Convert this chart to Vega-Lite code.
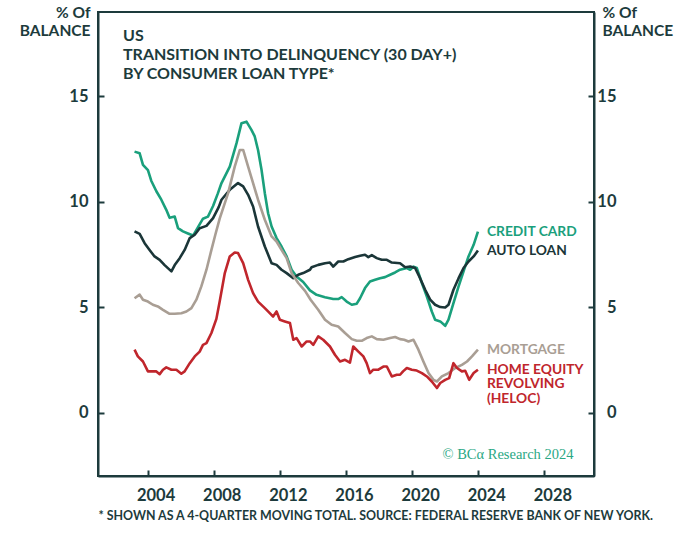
{
  "$schema": "https://vega.github.io/schema/vega-lite/v6.json",
  "width": 496,
  "height": 464,
  "autosize": {"type": "none"},
  "padding": {"left": 98, "top": 12, "right": 86, "bottom": 81},
  "background": "white",
  "title": {
    "text": ["US", "TRANSITION INTO DELINQUENCY (30 DAY+)", "BY CONSUMER LOAN TYPE*"],
    "anchor": "start", "frame": "group", "orient": "top", "baseline": "top",
    "offset": 0, "dx": 25, "dy": 77,
    "font": "Lato", "fontSize": 16, "fontWeight": "bold", "color": "#1d3b3c", "lineHeight": 19
  },
  "datasets": {
    "labels": [
      {"series": "cc", "label": "CREDIT CARD"},
      {"series": "auto", "label": "AUTO LOAN"},
      {"series": "mort", "label": "MORTGAGE"},
      {"series": "heloc", "label": "HOME EQUITY\nREVOLVING\n(HELOC)"}
    ],
    "rates": [
      {"series": "cc", "year": 2003.21, "rate": 12.38},
      {"series": "cc", "year": 2003.52, "rate": 12.3},
      {"series": "cc", "year": 2003.72, "rate": 11.75},
      {"series": "cc", "year": 2004.02, "rate": 11.5},
      {"series": "cc", "year": 2004.22, "rate": 11.0},
      {"series": "cc", "year": 2004.53, "rate": 10.5},
      {"series": "cc", "year": 2004.83, "rate": 10.1},
      {"series": "cc", "year": 2005.13, "rate": 9.62},
      {"series": "cc", "year": 2005.33, "rate": 9.24},
      {"series": "cc", "year": 2005.64, "rate": 9.3},
      {"series": "cc", "year": 2005.84, "rate": 8.75},
      {"series": "cc", "year": 2006.14, "rate": 8.6},
      {"series": "cc", "year": 2006.44, "rate": 8.5},
      {"series": "cc", "year": 2006.75, "rate": 8.4},
      {"series": "cc", "year": 2007.05, "rate": 8.8},
      {"series": "cc", "year": 2007.35, "rate": 9.2},
      {"series": "cc", "year": 2007.65, "rate": 9.3},
      {"series": "cc", "year": 2007.96, "rate": 9.8},
      {"series": "cc", "year": 2008.25, "rate": 10.4},
      {"series": "cc", "year": 2008.47, "rate": 10.89},
      {"series": "cc", "year": 2008.97, "rate": 11.67},
      {"series": "cc", "year": 2009.38, "rate": 12.78},
      {"series": "cc", "year": 2009.68, "rate": 13.73},
      {"series": "cc", "year": 2009.98, "rate": 13.8},
      {"series": "cc", "year": 2010.28, "rate": 13.41},
      {"series": "cc", "year": 2010.48, "rate": 13.1},
      {"series": "cc", "year": 2010.68, "rate": 12.46},
      {"series": "cc", "year": 2010.89, "rate": 11.52},
      {"series": "cc", "year": 2011.09, "rate": 10.41},
      {"series": "cc", "year": 2011.29, "rate": 9.46},
      {"series": "cc", "year": 2011.5, "rate": 8.83},
      {"series": "cc", "year": 2011.8, "rate": 8.28},
      {"series": "cc", "year": 2012.1, "rate": 7.88},
      {"series": "cc", "year": 2012.41, "rate": 7.41},
      {"series": "cc", "year": 2012.71, "rate": 6.78},
      {"series": "cc", "year": 2013.01, "rate": 6.46},
      {"series": "cc", "year": 2013.41, "rate": 6.2},
      {"series": "cc", "year": 2013.82, "rate": 5.8},
      {"series": "cc", "year": 2014.22, "rate": 5.59},
      {"series": "cc", "year": 2014.73, "rate": 5.48},
      {"series": "cc", "year": 2015.23, "rate": 5.39},
      {"series": "cc", "year": 2015.53, "rate": 5.39},
      {"series": "cc", "year": 2015.74, "rate": 5.48},
      {"series": "cc", "year": 2016.04, "rate": 5.27},
      {"series": "cc", "year": 2016.35, "rate": 5.12},
      {"series": "cc", "year": 2016.65, "rate": 5.17},
      {"series": "cc", "year": 2016.85, "rate": 5.43},
      {"series": "cc", "year": 2017.15, "rate": 5.91},
      {"series": "cc", "year": 2017.45, "rate": 6.22},
      {"series": "cc", "year": 2017.76, "rate": 6.3},
      {"series": "cc", "year": 2018.06, "rate": 6.38},
      {"series": "cc", "year": 2018.36, "rate": 6.43},
      {"series": "cc", "year": 2018.67, "rate": 6.54},
      {"series": "cc", "year": 2018.97, "rate": 6.65},
      {"series": "cc", "year": 2019.27, "rate": 6.78},
      {"series": "cc", "year": 2019.68, "rate": 6.86},
      {"series": "cc", "year": 2019.88, "rate": 6.78},
      {"series": "cc", "year": 2020.08, "rate": 6.93},
      {"series": "cc", "year": 2020.28, "rate": 6.86},
      {"series": "cc", "year": 2020.59, "rate": 6.15},
      {"series": "cc", "year": 2020.89, "rate": 5.51},
      {"series": "cc", "year": 2021.19, "rate": 4.8},
      {"series": "cc", "year": 2021.39, "rate": 4.41},
      {"series": "cc", "year": 2021.7, "rate": 4.33},
      {"series": "cc", "year": 2022.0, "rate": 4.12},
      {"series": "cc", "year": 2022.2, "rate": 4.41},
      {"series": "cc", "year": 2022.5, "rate": 5.2},
      {"series": "cc", "year": 2022.81, "rate": 5.99},
      {"series": "cc", "year": 2023.11, "rate": 6.7},
      {"series": "cc", "year": 2023.41, "rate": 7.41},
      {"series": "cc", "year": 2023.72, "rate": 7.96},
      {"series": "cc", "year": 2023.98, "rate": 8.59},

      {"series": "auto", "year": 2003.21, "rate": 8.6},
      {"series": "auto", "year": 2003.52, "rate": 8.48},
      {"series": "auto", "year": 2003.82, "rate": 8.04},
      {"series": "auto", "year": 2004.12, "rate": 7.72},
      {"series": "auto", "year": 2004.42, "rate": 7.41},
      {"series": "auto", "year": 2004.73, "rate": 7.25},
      {"series": "auto", "year": 2005.03, "rate": 7.0},
      {"series": "auto", "year": 2005.44, "rate": 6.7},
      {"series": "auto", "year": 2005.64, "rate": 7.0},
      {"series": "auto", "year": 2005.94, "rate": 7.33},
      {"series": "auto", "year": 2006.24, "rate": 7.72},
      {"series": "auto", "year": 2006.55, "rate": 8.28},
      {"series": "auto", "year": 2006.85, "rate": 8.44},
      {"series": "auto", "year": 2007.15, "rate": 8.75},
      {"series": "auto", "year": 2007.56, "rate": 8.86},
      {"series": "auto", "year": 2007.96, "rate": 9.23},
      {"series": "auto", "year": 2008.3, "rate": 9.75},
      {"series": "auto", "year": 2008.47, "rate": 10.1},
      {"series": "auto", "year": 2008.97, "rate": 10.57},
      {"series": "auto", "year": 2009.47, "rate": 10.89},
      {"series": "auto", "year": 2009.78, "rate": 10.73},
      {"series": "auto", "year": 2010.08, "rate": 10.33},
      {"series": "auto", "year": 2010.38, "rate": 9.78},
      {"series": "auto", "year": 2010.68, "rate": 8.83},
      {"series": "auto", "year": 2011.09, "rate": 7.88},
      {"series": "auto", "year": 2011.5, "rate": 7.09},
      {"series": "auto", "year": 2011.8, "rate": 7.01},
      {"series": "auto", "year": 2012.1, "rate": 6.78},
      {"series": "auto", "year": 2012.41, "rate": 6.62},
      {"series": "auto", "year": 2012.81, "rate": 6.38},
      {"series": "auto", "year": 2013.11, "rate": 6.54},
      {"series": "auto", "year": 2013.41, "rate": 6.62},
      {"series": "auto", "year": 2013.82, "rate": 6.78},
      {"series": "auto", "year": 2013.92, "rate": 6.9},
      {"series": "auto", "year": 2014.32, "rate": 7.01},
      {"series": "auto", "year": 2014.73, "rate": 7.09},
      {"series": "auto", "year": 2015.03, "rate": 7.12},
      {"series": "auto", "year": 2015.23, "rate": 6.93},
      {"series": "auto", "year": 2015.53, "rate": 7.17},
      {"series": "auto", "year": 2015.84, "rate": 7.17},
      {"series": "auto", "year": 2016.14, "rate": 7.28},
      {"series": "auto", "year": 2016.55, "rate": 7.38},
      {"series": "auto", "year": 2016.85, "rate": 7.44},
      {"series": "auto", "year": 2017.15, "rate": 7.49},
      {"series": "auto", "year": 2017.35, "rate": 7.38},
      {"series": "auto", "year": 2017.56, "rate": 7.47},
      {"series": "auto", "year": 2017.86, "rate": 7.33},
      {"series": "auto", "year": 2018.16, "rate": 7.25},
      {"series": "auto", "year": 2018.47, "rate": 7.25},
      {"series": "auto", "year": 2018.77, "rate": 7.12},
      {"series": "auto", "year": 2019.27, "rate": 7.09},
      {"series": "auto", "year": 2019.58, "rate": 6.9},
      {"series": "auto", "year": 2019.88, "rate": 6.93},
      {"series": "auto", "year": 2020.18, "rate": 6.86},
      {"series": "auto", "year": 2020.48, "rate": 6.38},
      {"series": "auto", "year": 2020.79, "rate": 5.83},
      {"series": "auto", "year": 2021.09, "rate": 5.36},
      {"series": "auto", "year": 2021.39, "rate": 5.12},
      {"series": "auto", "year": 2021.7, "rate": 5.01},
      {"series": "auto", "year": 2022.0, "rate": 4.99},
      {"series": "auto", "year": 2022.2, "rate": 5.12},
      {"series": "auto", "year": 2022.5, "rate": 5.83},
      {"series": "auto", "year": 2022.81, "rate": 6.38},
      {"series": "auto", "year": 2023.11, "rate": 6.86},
      {"series": "auto", "year": 2023.41, "rate": 7.17},
      {"series": "auto", "year": 2023.72, "rate": 7.41},
      {"series": "auto", "year": 2023.98, "rate": 7.69},

      {"series": "mort", "year": 2003.21, "rate": 5.43},
      {"series": "mort", "year": 2003.52, "rate": 5.6},
      {"series": "mort", "year": 2003.72, "rate": 5.36},
      {"series": "mort", "year": 2004.02, "rate": 5.27},
      {"series": "mort", "year": 2004.32, "rate": 5.12},
      {"series": "mort", "year": 2004.62, "rate": 5.04},
      {"series": "mort", "year": 2004.93, "rate": 4.88},
      {"series": "mort", "year": 2005.33, "rate": 4.69},
      {"series": "mort", "year": 2005.64, "rate": 4.69},
      {"series": "mort", "year": 2006.04, "rate": 4.72},
      {"series": "mort", "year": 2006.35, "rate": 4.8},
      {"series": "mort", "year": 2006.65, "rate": 4.96},
      {"series": "mort", "year": 2006.95, "rate": 5.36},
      {"series": "mort", "year": 2007.25, "rate": 5.99},
      {"series": "mort", "year": 2007.56, "rate": 6.78},
      {"series": "mort", "year": 2007.86, "rate": 7.72},
      {"series": "mort", "year": 2008.1, "rate": 8.45},
      {"series": "mort", "year": 2008.36, "rate": 9.2},
      {"series": "mort", "year": 2008.87, "rate": 10.41},
      {"series": "mort", "year": 2009.27, "rate": 11.67},
      {"series": "mort", "year": 2009.58, "rate": 12.46},
      {"series": "mort", "year": 2009.78, "rate": 12.46},
      {"series": "mort", "year": 2010.08, "rate": 11.67},
      {"series": "mort", "year": 2010.38, "rate": 10.89},
      {"series": "mort", "year": 2010.68, "rate": 10.1},
      {"series": "mort", "year": 2011.09, "rate": 9.15},
      {"series": "mort", "year": 2011.5, "rate": 8.36},
      {"series": "mort", "year": 2011.8, "rate": 8.12},
      {"series": "mort", "year": 2012.1, "rate": 7.72},
      {"series": "mort", "year": 2012.41, "rate": 7.33},
      {"series": "mort", "year": 2012.71, "rate": 6.62},
      {"series": "mort", "year": 2013.11, "rate": 6.15},
      {"series": "mort", "year": 2013.52, "rate": 5.78},
      {"series": "mort", "year": 2013.86, "rate": 5.36},
      {"series": "mort", "year": 2014.32, "rate": 4.88},
      {"series": "mort", "year": 2014.73, "rate": 4.41},
      {"series": "mort", "year": 2015.13, "rate": 4.17},
      {"series": "mort", "year": 2015.53, "rate": 4.09},
      {"series": "mort", "year": 2015.94, "rate": 3.78},
      {"series": "mort", "year": 2016.35, "rate": 3.49},
      {"series": "mort", "year": 2016.65, "rate": 3.41},
      {"series": "mort", "year": 2016.95, "rate": 3.41},
      {"series": "mort", "year": 2017.25, "rate": 3.54},
      {"series": "mort", "year": 2017.56, "rate": 3.62},
      {"series": "mort", "year": 2017.86, "rate": 3.49},
      {"series": "mort", "year": 2018.26, "rate": 3.46},
      {"series": "mort", "year": 2018.67, "rate": 3.54},
      {"series": "mort", "year": 2018.97, "rate": 3.59},
      {"series": "mort", "year": 2019.27, "rate": 3.49},
      {"series": "mort", "year": 2019.52, "rate": 3.46},
      {"series": "mort", "year": 2019.78, "rate": 3.38},
      {"series": "mort", "year": 2020.08, "rate": 3.46},
      {"series": "mort", "year": 2020.38, "rate": 2.99},
      {"series": "mort", "year": 2020.68, "rate": 2.43},
      {"series": "mort", "year": 2020.99, "rate": 1.88},
      {"series": "mort", "year": 2021.29, "rate": 1.56},
      {"series": "mort", "year": 2021.5, "rate": 1.48},
      {"series": "mort", "year": 2021.8, "rate": 1.72},
      {"series": "mort", "year": 2022.2, "rate": 1.88},
      {"series": "mort", "year": 2022.61, "rate": 2.12},
      {"series": "mort", "year": 2023.01, "rate": 2.27},
      {"series": "mort", "year": 2023.32, "rate": 2.43},
      {"series": "mort", "year": 2023.62, "rate": 2.67},
      {"series": "mort", "year": 2023.98, "rate": 2.99},

      {"series": "heloc", "year": 2003.21, "rate": 2.99},
      {"series": "heloc", "year": 2003.41, "rate": 2.67},
      {"series": "heloc", "year": 2003.72, "rate": 2.43},
      {"series": "heloc", "year": 2004.02, "rate": 1.96},
      {"series": "heloc", "year": 2004.32, "rate": 1.96},
      {"series": "heloc", "year": 2004.53, "rate": 1.96},
      {"series": "heloc", "year": 2004.73, "rate": 1.83},
      {"series": "heloc", "year": 2004.93, "rate": 2.04},
      {"series": "heloc", "year": 2005.13, "rate": 2.15},
      {"series": "heloc", "year": 2005.44, "rate": 2.04},
      {"series": "heloc", "year": 2005.74, "rate": 2.04},
      {"series": "heloc", "year": 2006.04, "rate": 1.85},
      {"series": "heloc", "year": 2006.24, "rate": 1.96},
      {"series": "heloc", "year": 2006.55, "rate": 2.35},
      {"series": "heloc", "year": 2006.85, "rate": 2.67},
      {"series": "heloc", "year": 2007.15, "rate": 2.9},
      {"series": "heloc", "year": 2007.35, "rate": 3.22},
      {"series": "heloc", "year": 2007.56, "rate": 3.3},
      {"series": "heloc", "year": 2007.86, "rate": 3.78},
      {"series": "heloc", "year": 2008.16, "rate": 4.45},
      {"series": "heloc", "year": 2008.36, "rate": 5.27},
      {"series": "heloc", "year": 2008.67, "rate": 6.62},
      {"series": "heloc", "year": 2008.97, "rate": 7.41},
      {"series": "heloc", "year": 2009.27, "rate": 7.6},
      {"series": "heloc", "year": 2009.47, "rate": 7.57},
      {"series": "heloc", "year": 2009.78, "rate": 7.09},
      {"series": "heloc", "year": 2010.08, "rate": 6.3},
      {"series": "heloc", "year": 2010.38, "rate": 5.67},
      {"series": "heloc", "year": 2010.68, "rate": 5.27},
      {"series": "heloc", "year": 2011.09, "rate": 4.96},
      {"series": "heloc", "year": 2011.39, "rate": 4.72},
      {"series": "heloc", "year": 2011.59, "rate": 4.56},
      {"series": "heloc", "year": 2011.8, "rate": 4.8},
      {"series": "heloc", "year": 2012.0, "rate": 4.41},
      {"series": "heloc", "year": 2012.3, "rate": 4.33},
      {"series": "heloc", "year": 2012.61, "rate": 4.25},
      {"series": "heloc", "year": 2012.81, "rate": 3.46},
      {"series": "heloc", "year": 2013.01, "rate": 3.54},
      {"series": "heloc", "year": 2013.32, "rate": 3.14},
      {"series": "heloc", "year": 2013.62, "rate": 3.38},
      {"series": "heloc", "year": 2013.82, "rate": 3.38},
      {"series": "heloc", "year": 2014.02, "rate": 3.22},
      {"series": "heloc", "year": 2014.32, "rate": 3.62},
      {"series": "heloc", "year": 2014.62, "rate": 3.46},
      {"series": "heloc", "year": 2015.03, "rate": 3.14},
      {"series": "heloc", "year": 2015.33, "rate": 2.75},
      {"series": "heloc", "year": 2015.64, "rate": 2.43},
      {"series": "heloc", "year": 2015.94, "rate": 2.51},
      {"series": "heloc", "year": 2016.24, "rate": 2.38},
      {"series": "heloc", "year": 2016.44, "rate": 3.14},
      {"series": "heloc", "year": 2016.75, "rate": 2.9},
      {"series": "heloc", "year": 2017.05, "rate": 2.67},
      {"series": "heloc", "year": 2017.25, "rate": 2.35},
      {"series": "heloc", "year": 2017.45, "rate": 1.88},
      {"series": "heloc", "year": 2017.65, "rate": 2.04},
      {"series": "heloc", "year": 2017.96, "rate": 2.04},
      {"series": "heloc", "year": 2018.26, "rate": 2.19},
      {"series": "heloc", "year": 2018.47, "rate": 2.19},
      {"series": "heloc", "year": 2018.77, "rate": 1.72},
      {"series": "heloc", "year": 2019.07, "rate": 1.8},
      {"series": "heloc", "year": 2019.27, "rate": 1.8},
      {"series": "heloc", "year": 2019.45, "rate": 1.96},
      {"series": "heloc", "year": 2019.68, "rate": 2.12},
      {"series": "heloc", "year": 2019.98, "rate": 2.04},
      {"series": "heloc", "year": 2020.28, "rate": 2.0},
      {"series": "heloc", "year": 2020.59, "rate": 1.88},
      {"series": "heloc", "year": 2020.89, "rate": 1.72},
      {"series": "heloc", "year": 2021.19, "rate": 1.48},
      {"series": "heloc", "year": 2021.5, "rate": 1.17},
      {"series": "heloc", "year": 2021.7, "rate": 1.41},
      {"series": "heloc", "year": 2022.0, "rate": 1.56},
      {"series": "heloc", "year": 2022.24, "rate": 1.64},
      {"series": "heloc", "year": 2022.5, "rate": 2.35},
      {"series": "heloc", "year": 2022.71, "rate": 2.12},
      {"series": "heloc", "year": 2023.01, "rate": 1.96},
      {"series": "heloc", "year": 2023.21, "rate": 1.99},
      {"series": "heloc", "year": 2023.45, "rate": 1.56},
      {"series": "heloc", "year": 2023.72, "rate": 1.88},
      {"series": "heloc", "year": 2023.98, "rate": 2.04}
    ]
  },
  "data": {"name": "rates"},
  "layer": [
    {
      "mark": {"type": "line", "strokeWidth": 2.6, "strokeJoin": "round"},
      "encoding": {
        "x": {
          "field": "year", "type": "quantitative",
          "scale": {"domain": [2001, 2031], "nice": false, "zero": false},
          "axis": {
            "values": [2004, 2008, 2012, 2016, 2020, 2024, 2028],
            "format": "d",
            "labelOffset": 8,
            "labelPadding": 17,
            "tickSize": -6,
            "title": "* SHOWN AS A 4-QUARTER MOVING TOTAL. SOURCE: FEDERAL RESERVE BANK OF NEW YORK.",
            "titleAnchor": "start", "titleAlign": "left", "titleX": 0, "titleY": 39,
            "titleBaseline": "middle", "titleFontSize": 12.4
          }
        },
        "y": {
          "field": "rate", "type": "quantitative",
          "scale": {"domain": [-3, 19], "nice": false, "zero": false},
          "axis": {
            "orient": "left",
            "values": [0, 5, 10, 15],
            "tickSize": -6,
            "labelPadding": 16,
            "title": ["% Of", "BALANCE"],
            "titleAngle": 0, "titleAlign": "right", "titleBaseline": "alphabetic",
            "titleX": -8, "titleY": 5, "titleLineHeight": 18
          }
        },
        "color": {
          "field": "series", "type": "nominal",
          "scale": {"domain": ["cc", "auto", "mort", "heloc"], "range": ["#1aa07c", "#1b3638", "#a99e94", "#c0262c"]},
          "legend": null
        }
      }
    },
    {
      "transform": [
        {"joinaggregate": [{"op": "max", "field": "year", "as": "last"}], "groupby": ["series"]},
        {"filter": "datum.year === datum.last"},
        {"lookup": "series", "from": {"data": {"name": "labels"}, "key": "series", "fields": ["label"]}}
      ],
      "mark": {"type": "text", "align": "left", "baseline": "middle", "dx": 9, "font": "Lato", "fontSize": 13.8, "fontWeight": "bold", "lineBreak": "\n", "lineHeight": 14.5},
      "encoding": {
        "x": {"field": "year", "type": "quantitative"},
        "y": {
          "field": "rate", "type": "quantitative",
          "axis": {
            "orient": "right",
            "values": [0, 5, 10, 15],
            "tickSize": -6,
            "labelAlign": "right",
            "labelPadding": 28,
            "title": ["% Of", "BALANCE"],
            "titleAngle": 0, "titleAlign": "left", "titleBaseline": "alphabetic",
            "titleX": 8, "titleY": 5, "titleLineHeight": 18
          }
        },
        "text": {"field": "label"},
        "color": {"field": "series", "type": "nominal", "legend": null}
      }
    },
    {
      "data": {"values": [{"year": 2029.76, "rate": -1.99, "note": "© BCα Research 2024"}]},
      "mark": {"type": "text", "align": "right", "baseline": "middle", "font": "Liberation Serif", "fontSize": 14.5, "color": "#2aa884"},
      "encoding": {
        "x": {"field": "year", "type": "quantitative"},
        "y": {"field": "rate", "type": "quantitative", "axis": null},
        "text": {"field": "note"}
      }
    }
  ],
  "resolve": {"axis": {"y": "independent"}},
  "config": {
    "view": {"stroke": "#1d3b3c", "strokeWidth": 2},
    "axis": {
      "grid": false,
      "domainColor": "#1d3b3c", "domainWidth": 2,
      "tickColor": "#1d3b3c", "tickWidth": 2,
      "labelFont": "Lato", "labelFontSize": 16.5, "labelFontWeight": "bold", "labelColor": "#1d3b3c",
      "titleFont": "Lato", "titleFontSize": 15.5, "titleFontWeight": "bold", "titleColor": "#1d3b3c"
    }
  }
}
